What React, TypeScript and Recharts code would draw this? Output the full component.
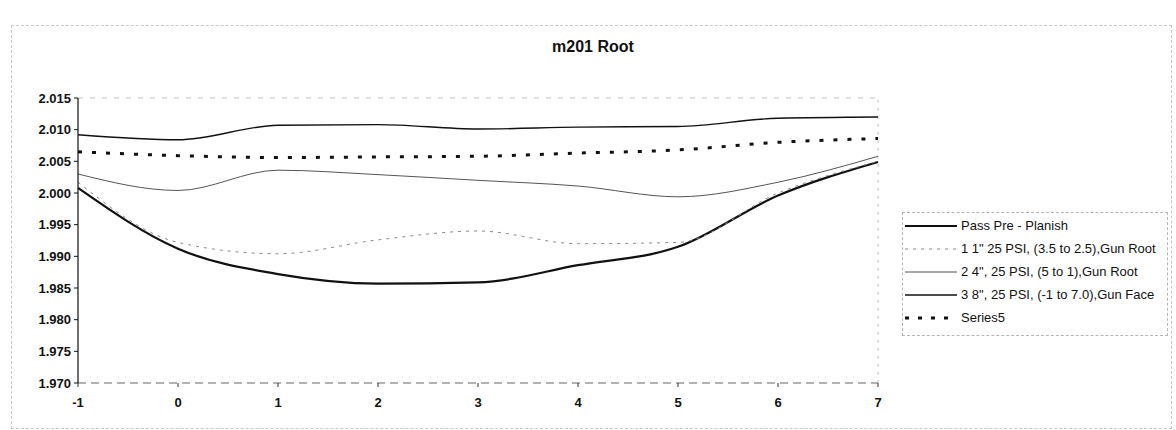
import { LineChart, Line, XAxis, YAxis, Legend, ReferenceLine } from 'recharts';

// positions along the weld, -1 .. 7
const xValues = [-1, 0, 1, 2, 3, 4, 5, 6, 7];

const passPrePlanish = [2.0008, 1.9912, 1.9872, 1.9857, 1.9859, 1.9886, 1.9915, 1.9996, 2.0049];
const gunRoot1 = [2.0017, 1.9922, 1.9904, 1.9926, 1.994, 1.992, 1.9922, 2.0, 2.005];
const gunRoot2 = [2.003, 2.0004, 2.0036, 2.0029, 2.002, 2.0011, 1.9994, 2.0017, 2.0058];
const gunFace = [2.0092, 2.0084, 2.0107, 2.0108, 2.0101, 2.0104, 2.0105, 2.0118, 2.012];
const series5 = [2.0065, 2.0059, 2.0056, 2.0057, 2.0058, 2.0063, 2.0068, 2.008, 2.0086];

const yTicks = [1.97, 1.975, 1.98, 1.985, 1.99, 1.995, 2.0, 2.005, 2.01, 2.015];
const xTicks = [-1, 0, 1, 2, 3, 4, 5, 6, 7];

const data = xValues.map((x, i) => ({
  x,
  pre: passPrePlanish[i],
  root1: gunRoot1[i],
  root2: gunRoot2[i],
  face: gunFace[i],
  s5: series5[i],
}));

const series = [
  { key: 'pre', name: 'Pass Pre - Planish', stroke: '#111', width: 2.2, dash: undefined },
  { key: 'root1', name: '1 1" 25 PSI, (3.5 to 2.5),Gun Root', stroke: '#8a8a8a', width: 1, dash: '3 5' },
  { key: 'root2', name: '2 4", 25 PSI, (5 to 1),Gun Root', stroke: '#555', width: 1, dash: undefined },
  { key: 'face', name: '3 8", 25 PSI, (-1 to 7.0),Gun Face', stroke: '#111', width: 1.4, dash: undefined },
  { key: 's5', name: 'Series5', stroke: '#111', width: 3, dash: '4 10' },
];

const font = '"Liberation Sans", Arial, sans-serif';

function LegendBox() {
  return (
    <div
      style={{
        border: '1px dashed #b5b5b5',
        background: '#fff',
        padding: '1px 0 6px 2px',
        fontFamily: font,
        fontSize: 13,
        color: '#111',
      }}
    >
      {series.map((s) => (
        <div key={s.key} style={{ display: 'flex', alignItems: 'center', height: 23 }}>
          <svg width={52} height={10} style={{ marginRight: 4 }}>
            <line
              x1={0}
              y1={5}
              x2={52}
              y2={5}
              stroke={s.stroke}
              strokeWidth={s.width}
              strokeDasharray={s.key === 's5' ? '4 9' : s.dash}
            />
          </svg>
          <span style={{ whiteSpace: 'nowrap' }}>{s.name}</span>
        </div>
      ))}
    </div>
  );
}

export default function App() {
  return (
    <div style={{ position: 'absolute', left: 0, top: 0, width: 1176, height: 430, background: '#fff' }}>
      <div
        style={{
          position: 'absolute',
          left: 11,
          top: 25,
          width: 1159,
          height: 402,
          border: '1px dashed #c8c8c8',
        }}
      />
      <div
        style={{
          position: 'absolute',
          left: 493,
          top: 38,
          width: 200,
          textAlign: 'center',
          fontFamily: font,
          fontWeight: 'bold',
          fontSize: 16,
          color: '#111',
        }}
      >
        m201 Root
      </div>
      <LineChart
        width={1176}
        height={430}
        data={data}
        margin={{ top: 98, right: 298, bottom: 17, left: 20 }}
        style={{ position: 'absolute', left: 0, top: 0 }}
      >
        <XAxis
          dataKey="x"
          type="number"
          domain={[-1, 7]}
          ticks={xTicks}
          height={30}
          tickSize={4}
          tickMargin={11}
          axisLine={{ stroke: '#666', strokeDasharray: '8 5' }}
          tickLine={{ stroke: '#333' }}
          tick={{ fontSize: 13, fontWeight: 600, fill: '#111', fontFamily: font }}
        />
        <YAxis
          type="number"
          domain={[1.97, 2.015]}
          ticks={yTicks}
          width={58}
          tickSize={4}
          tickMargin={3}
          tickFormatter={(v: number) => v.toFixed(3)}
          axisLine={{ stroke: '#111', strokeWidth: 1.2 }}
          tickLine={{ stroke: '#111' }}
          tick={{ fontSize: 13, fontWeight: 600, fill: '#111', fontFamily: font }}
        />
        <ReferenceLine y={2.015} stroke="#c4c4c4" strokeDasharray="5 7" />
        <ReferenceLine x={7} stroke="#c4c4c4" strokeDasharray="3 5" />
        {series.map((s) => (
          <Line
            key={s.key}
            dataKey={s.key}
            name={s.name}
            type="monotone"
            stroke={s.stroke}
            strokeWidth={s.width}
            strokeDasharray={s.dash}
            dot={false}
            activeDot={false}
            isAnimationActive={false}
          />
        ))}
        <Legend
          layout="vertical"
          align="center"
          verticalAlign="middle"
          content={() => <LegendBox />}
          wrapperStyle={{ left: 902, top: 212, width: 266 }}
        />
      </LineChart>
    </div>
  );
}
